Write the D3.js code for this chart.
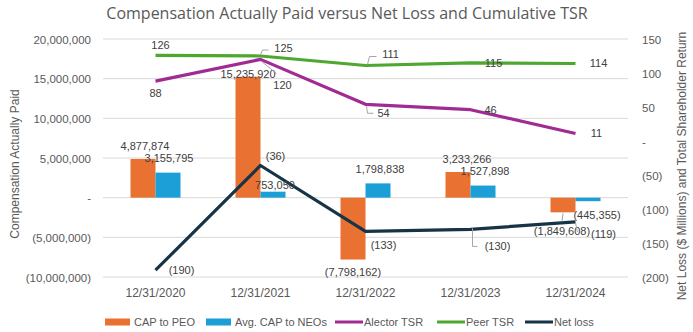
<!DOCTYPE html>
<html>
<head>
<meta charset="utf-8">
<script src="https://cdn.jsdelivr.net/npm/d3@7"></script>
<style>
  html, body { margin: 0; padding: 0; background: #fff; }
  svg text { font-family: "Liberation Sans", Arial, sans-serif; fill: #595959; }
  .title { font-family: "Open Sans", sans-serif; font-size: 16px; }
  .tick text { font-size: 11.5px; }
  .axis-title { font-size: 12px; }
  .dlabel { font-size: 11px; fill: #404040; }
  .legend text { font-size: 11px; fill: #595959; }
</style>
</head>
<body>
<svg id="chart" width="693" height="332"></svg>
<script>
const years = ["12/31/2020", "12/31/2021", "12/31/2022", "12/31/2023", "12/31/2024"];
const capPeo = [4877874, 15235920, -7798162, 3233266, -1849608];
const capNeo = [3155795, 753050, 1798838, 1527898, -445355];
const alectorTsr = [88, 120, 54, 46, 11];
const peerTsr = [126, 125, 111, 115, 114];
const netLoss = [-190, -36, -133, -130, -119];

const leftTicks = [-10000000, -5000000, 0, 5000000, 10000000, 15000000, 20000000];
const rightTicks = [-200, -150, -100, -50, 0, 50, 100, 150];

const colors = {
  peo: "#E97132",
  neo: "#1B9FD6",
  alector: "#A02B93",
  peer: "#4EA72E",
  loss: "#163445"
};

const svg = d3.select("#chart");
const plot = { left: 103, right: 628, top: 39, bottom: 277 };

const x = d3.scaleBand().domain(years).range([plot.left, plot.right]);
const yLeft = d3.scaleLinear().domain([-10000000, 20000000]).range([plot.bottom, plot.top]);
const yRight = d3.scaleLinear().domain([-200, 150]).range([plot.bottom, plot.top]);

const fmt = d3.format(",");
const acct = v => v < 0 ? `(${fmt(-v)})` : v === 0 ? "-" : fmt(v);

// title
svg.append("text").attr("class", "title")
  .attr("x", 347).attr("y", 19).attr("text-anchor", "middle")
  .text("Compensation Actually Paid versus Net Loss and Cumulative TSR");

// gridlines
svg.append("g").selectAll("line").data(leftTicks).join("line")
  .attr("x1", plot.left).attr("x2", plot.right)
  .attr("y1", d => yLeft(d)).attr("y2", d => yLeft(d))
  .attr("stroke", "#d9d9d9").attr("stroke-width", 1);

// left axis
const leftAxis = svg.append("g").attr("transform", `translate(${plot.left - 12},0)`)
  .call(d3.axisLeft(yLeft).tickValues(leftTicks).tickSize(0).tickPadding(0).tickFormat(acct));
leftAxis.select(".domain").remove();
leftAxis.selectAll(".tick text").attr("dy", "0.35em");

// right axis
const rightAxis = svg.append("g").attr("transform", `translate(${plot.right + 14},0)`)
  .call(d3.axisRight(yRight).tickValues([-200, -150, -100, -50, 0, 50, 100, 150]).tickSize(0).tickPadding(0).tickFormat(acct));
rightAxis.select(".domain").remove();
rightAxis.selectAll(".tick text").attr("dy", "0.35em");

// category axis
const xAxis = svg.append("g").attr("transform", `translate(0,${plot.bottom + 4})`)
  .call(d3.axisBottom(x).tickSize(0).tickPadding(7));
xAxis.select(".domain").remove();
xAxis.selectAll(".tick text").style("font-size", "12px");

// axis titles
svg.append("text").attr("class", "axis-title")
  .attr("transform", `translate(19,${(plot.top + plot.bottom) / 2 + 6}) rotate(-90)`)
  .attr("text-anchor", "middle").text("Compensation Actually Paid");
svg.append("text").attr("class", "axis-title")
  .attr("transform", `translate(686,${(plot.top + plot.bottom) / 2 + 8}) rotate(-90)`)
  .attr("text-anchor", "middle").text("Net Loss ($ Millions) and Total Shareholder Return");

// bars
const barW = 25;
const bars = svg.append("g");
function drawBars(values, offset, color) {
  bars.selectAll(null).data(values).join("rect")
    .attr("x", (d, i) => x(years[i]) + x.bandwidth() / 2 + offset)
    .attr("width", barW)
    .attr("y", d => yLeft(Math.max(0, d)))
    .attr("height", d => Math.abs(yLeft(d) - yLeft(0)))
    .attr("fill", color);
}
drawBars(capPeo, -barW, colors.peo);
drawBars(capNeo, 0, colors.neo);

// lines
const cx = i => x(years[i]) + x.bandwidth() / 2;
function drawLine(values, color) {
  svg.append("path").datum(values)
    .attr("fill", "none").attr("stroke", color).attr("stroke-width", 3.2)
    .attr("stroke-linejoin", "round")
    .attr("d", d3.line().x((d, i) => cx(i)).y(d => yRight(d)));
}
drawLine(peerTsr, colors.peer);
drawLine(alectorTsr, colors.alector);
drawLine(netLoss, colors.loss);

// data labels: offsets from the anchor point of each mark
const labels = svg.append("g");
function addLabels(values, yFn, xOff, offsets) {
  values.forEach((v, i) => {
    const o = offsets[i];
    const px = cx(i) + xOff;
    const py = yFn(v, i);
    if (o.leader) {
      labels.append("path")
        .attr("d", `M${px + o.leader[0]},${py + o.leader[1]}` + o.leader.slice(2).map(p => `L${px + p[0]},${py + p[1]}`).join(""))
        .attr("fill", "none").attr("stroke", "#a6a6a6").attr("stroke-width", 1);
    }
    labels.append("text").attr("class", "dlabel")
      .attr("x", px + o.dx).attr("y", py + o.dy)
      .attr("text-anchor", "middle").attr("dy", "0.35em")
      .text(acct(v));
  });
}
const barEnd = (v) => yLeft(v);
addLabels(capPeo, barEnd, -barW / 2, [
  { dx: 2, dy: -13 }, { dx: 0, dy: -3 }, { dx: 0, dy: 13 }, { dx: 9, dy: -13 }, { dx: -1, dy: 19, leader: [0, 1, [-1, 9]] }
]);
addLabels(capNeo, barEnd, barW / 2, [
  { dx: 1, dy: -14 }, { dx: 2, dy: -7 }, { dx: 2, dy: -14 }, { dx: 2, dy: -14 }, { dx: 9, dy: 14 }
]);
addLabels(peerTsr, v => yRight(v), 0, [
  { dx: 5, dy: -10 }, { dx: 23, dy: -8, leader: [0, -1, [2, -6], [8, -6]] },
  { dx: 25, dy: -11, leader: [2, -1, [4, -9], [11, -9]] }, { dx: 23, dy: 0 }, { dx: 23, dy: 0 }
]);
addLabels(alectorTsr, v => yRight(v), 0, [
  { dx: 0, dy: 12 }, { dx: 22, dy: 26, leader: [1, 2, [16, 14]] },
  { dx: 18, dy: 9, leader: [1, 2, [2, 9], [8, 9]] }, { dx: 20, dy: 0 }, { dx: 21, dy: 0 }
]);
addLabels(netLoss, v => yRight(v), 0, [
  { dx: 26, dy: 0 }, { dx: 15, dy: -9 }, { dx: 18, dy: 14 },
  { dx: 27, dy: 17, leader: [2, -1, [2, 17], [7, 17]] }, { dx: 28, dy: 12, leader: [0, 1, [2, 10]] }
]);

// legend
const legendItems = [
  { name: "CAP to PEO", color: colors.peo, type: "bar", x: 105 },
  { name: "Avg. CAP to NEOs", color: colors.neo, type: "bar", x: 206 },
  { name: "Alector TSR", color: colors.alector, type: "line", x: 335 },
  { name: "Peer TSR", color: colors.peer, type: "line", x: 437 },
  { name: "Net loss", color: colors.loss, type: "line", x: 525 }
];
const legend = svg.append("g").attr("class", "legend");
const ly = 322;
legendItems.forEach(d => {
  if (d.type === "bar") {
    legend.append("rect").attr("x", d.x).attr("y", ly - 3.5).attr("width", 25).attr("height", 7).attr("fill", d.color);
  } else {
    legend.append("line").attr("x1", d.x).attr("x2", d.x + 28).attr("y1", ly).attr("y2", ly)
      .attr("stroke", d.color).attr("stroke-width", 3);
  }
  legend.append("text").attr("x", d.x + (d.type === "bar" ? 29 : 29)).attr("y", ly).attr("dy", "0.35em")
    .text(d.name);
});
</script>
</body>
</html>
